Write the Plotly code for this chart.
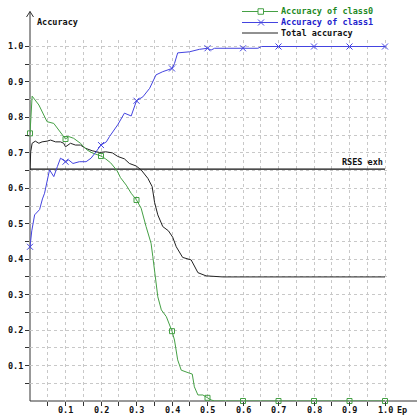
import plotly.graph_objects as go

# Accuracy curves as a function of epsilon
class0_x = [0.0, 0.006, 0.025, 0.048, 0.067, 0.081, 0.1, 0.109, 0.123, 0.142, 0.161, 0.175,
            0.2, 0.213, 0.227, 0.245, 0.255, 0.271, 0.285, 0.3, 0.313, 0.327, 0.341, 0.346,
            0.351, 0.36, 0.37, 0.384, 0.4, 0.407, 0.416, 0.426, 0.445, 0.457, 0.463, 0.473,
            0.487, 0.5, 0.51, 0.52, 0.6, 0.7, 0.8, 0.9, 1.0]
class0_y = [0.755, 0.86, 0.835, 0.788, 0.783, 0.764, 0.739, 0.746, 0.741, 0.727, 0.708, 0.70,
            0.691, 0.683, 0.672, 0.650, 0.630, 0.609, 0.586, 0.567, 0.544, 0.492, 0.445, 0.407,
            0.360, 0.294, 0.257, 0.238, 0.197, 0.172, 0.116, 0.087, 0.080, 0.076, 0.040, 0.017,
            0.017, 0.009, 0.003, 0.0, 0.0, 0.0, 0.0, 0.0, 0.0]

class1_x = [0.0, 0.005, 0.013, 0.027, 0.035, 0.041, 0.055, 0.067, 0.077, 0.086, 0.1, 0.109,
            0.121, 0.139, 0.158, 0.172, 0.186, 0.2, 0.215, 0.224, 0.247, 0.266, 0.285, 0.3,
            0.318, 0.337, 0.355, 0.374, 0.4, 0.407, 0.416, 0.449, 0.477, 0.5, 0.51, 0.52,
            0.6, 0.642, 0.652, 0.7, 0.8, 0.9, 1.0]
class1_y = [0.435, 0.48, 0.525, 0.540, 0.570, 0.586, 0.652, 0.633, 0.661, 0.685, 0.675, 0.680,
            0.670, 0.675, 0.675, 0.685, 0.703, 0.722, 0.731, 0.746, 0.779, 0.812, 0.804, 0.847,
            0.858, 0.882, 0.920, 0.929, 0.938, 0.952, 0.982, 0.985, 0.992, 0.995, 0.990, 0.995,
            0.995, 0.995, 1.0, 1.0, 1.0, 1.0, 1.0]

total_x = [0.0, 0.002, 0.006, 0.015, 0.025, 0.034, 0.048, 0.058, 0.072, 0.086, 0.095, 0.1,
           0.114, 0.128, 0.142, 0.156, 0.175, 0.196, 0.213, 0.232, 0.247, 0.266, 0.28, 0.299,
           0.313, 0.332, 0.344, 0.351, 0.36, 0.374, 0.39, 0.402, 0.412, 0.42, 0.43, 0.454,
           0.463, 0.473, 0.496, 0.515, 0.543, 1.0]
total_y = [0.652, 0.703, 0.727, 0.733, 0.727, 0.731, 0.733, 0.736, 0.731, 0.731, 0.727, 0.717,
           0.727, 0.722, 0.722, 0.713, 0.706, 0.701, 0.703, 0.700, 0.690, 0.683, 0.670, 0.663,
           0.652, 0.628, 0.605, 0.560, 0.525, 0.492, 0.480, 0.462, 0.435, 0.420, 0.405, 0.398,
           0.379, 0.362, 0.353, 0.351, 0.350, 0.350]

rses_exh = 0.654

tick_vals = [0.05, 0.1, 0.15, 0.2, 0.25, 0.3, 0.35, 0.4, 0.45, 0.5,
             0.55, 0.6, 0.65, 0.7, 0.75, 0.8, 0.85, 0.9, 0.95, 1.0]
tick_labels = ["", "0.1", "", "0.2", "", "0.3", "", "0.4", "", "0.5",
               "", "0.6", "", "0.7", "", "0.8", "", "0.9", "", "1.0"]

series_names = ["Accuracy of class0", "Accuracy of class1", "Total accuracy"]

GREEN = "#45a045"
BLUE = "#4444e0"
DARK = "#222222"
GRID = "#c8c8c8"
FONT = "DejaVu Sans Mono"
FS = 8.5
TXT = dict(family=FONT, size=FS, color="#111111", weight="bold")

W, H = 417, 415
ML, MR, MT, MB = 30, 27, 40, 14
PW, PH = W - ML - MR, H - MT - MB
XMAX = PW / 355.0
YMAX = PH / 354.5


def px(p):
    return (p - ML) / PW


def py(p):
    return (H - MB - p) / PH


def at_tenths(xs, ys):
    sel = [i for i, v in enumerate(xs) if abs(v * 10 - round(v * 10)) < 1e-9]
    return [xs[i] for i in sel], [ys[i] for i in sel]


fig = go.Figure()

# reference level
fig.add_trace(go.Scatter(x=[0.0, 1.0], y=[rses_exh, rses_exh], mode="lines",
                         line=dict(color="#111111", width=1.3), hoverinfo="skip"))

fig.add_trace(go.Scatter(x=total_x, y=total_y, mode="lines",
                         line=dict(color=DARK, width=1)))
fig.add_trace(go.Scatter(x=class0_x, y=class0_y, mode="lines",
                         line=dict(color=GREEN, width=1)))
fig.add_trace(go.Scatter(x=class1_x, y=class1_y, mode="lines",
                         line=dict(color=BLUE, width=1)))

mx, my = at_tenths(class0_x, class0_y)
fig.add_trace(go.Scatter(x=mx, y=my, mode="markers", cliponaxis=False,
                         marker=dict(symbol="square-open", size=5, color=GREEN,
                                     line=dict(width=1, color=GREEN))))
mx, my = at_tenths(class1_x, class1_y)
fig.add_trace(go.Scatter(x=mx, y=my, mode="markers", cliponaxis=False,
                         marker=dict(symbol="x-thin-open", size=6, color=BLUE,
                                     line=dict(width=1, color=BLUE))))

axis_common = dict(
    tickvals=tick_vals, ticks="outside", ticklen=4,
    tickcolor="#333333", tickwidth=1, showgrid=True, gridcolor=GRID, gridwidth=1,
    griddash="3px,3px", zeroline=False, showline=False, automargin=False,
    tickfont=TXT,
)

fig.update_layout(
    width=W, height=H, margin=dict(l=ML, r=MR, t=MT, b=MB, autoexpand=False),
    paper_bgcolor="white", plot_bgcolor="white", showlegend=False,
    xaxis=dict(range=[0, XMAX], ticktext=[""] * len(tick_vals), **axis_common),
    yaxis=dict(range=[0, YMAX], ticktext=tick_labels, **axis_common),
)

shapes = []
axis_line = dict(color="#333333", width=1)
# axes with arrow on the vertical one
shapes.append(dict(type="line", xref="paper", yref="paper", x0=px(30), x1=px(430),
                   y0=py(401), y1=py(401), line=axis_line, layer="below"))
shapes.append(dict(type="line", xref="paper", yref="paper", x0=px(30), x1=px(30),
                   y0=py(401), y1=py(11.5), line=axis_line, layer="below"))
shapes.append(dict(type="path", xref="paper", yref="paper",
                   path=f"M{px(26.5)},{py(17)} L{px(30)},{py(11.5)} L{px(33.5)},{py(17)}",
                   line=axis_line))

annotations = []
# x tick labels placed just under the tick marks
for v, lab in zip(tick_vals, tick_labels):
    if lab:
        annotations.append(dict(text=lab, xref="x", yref="paper", x=v, y=py(409.5),
                                xanchor="center", yanchor="middle", showarrow=False,
                                borderpad=0, font=TXT))

# legend
legend_rows = [(11.5, GREEN, "#1f8a1f", "square"), (22.5, BLUE, "#2222cc", "x"),
               (33, DARK, "#111111", None)]
for (ry, lc, tc, sym), name in zip(legend_rows, series_names):
    shapes.append(dict(type="line", xref="paper", yref="paper", x0=px(242), x1=px(278),
                       y0=py(ry), y1=py(ry), line=dict(color=lc, width=1)))
    if sym == "square":
        shapes.append(dict(type="rect", xref="paper", yref="paper", x0=px(258), x1=px(263.5),
                           y0=py(ry + 2.75), y1=py(ry - 2.75), line=dict(color=lc, width=1),
                           fillcolor="white"))
    elif sym == "x":
        shapes.append(dict(type="line", xref="paper", yref="paper", x0=px(258), x1=px(264),
                           y0=py(ry + 3), y1=py(ry - 3), line=dict(color=lc, width=1)))
        shapes.append(dict(type="line", xref="paper", yref="paper", x0=px(258), x1=px(264),
                           y0=py(ry - 3), y1=py(ry + 3), line=dict(color=lc, width=1)))
    annotations.append(dict(text=name, xref="paper", yref="paper", x=px(280), y=py(ry),
                            xanchor="left", yanchor="middle", showarrow=False, borderpad=0,
                            font=dict(family=FONT, size=FS, color=tc, weight="bold")))

annotations.append(dict(text="Accuracy", xref="paper", yref="paper", x=px(35), y=py(22),
                        xanchor="left", yanchor="middle", showarrow=False, font=TXT))
annotations.append(dict(text="Ep", xref="paper", yref="paper", x=px(396), y=py(409.5),
                        xanchor="left", yanchor="middle", showarrow=False, borderpad=0,
                        font=TXT))
annotations.append(dict(text="RSES exh", xref="x", yref="y", x=1.0, y=rses_exh,
                        xanchor="right", yanchor="bottom", yshift=0, showarrow=False,
                        font=TXT))

fig.update_layout(shapes=shapes, annotations=annotations)

fig.write_html("out.html")
